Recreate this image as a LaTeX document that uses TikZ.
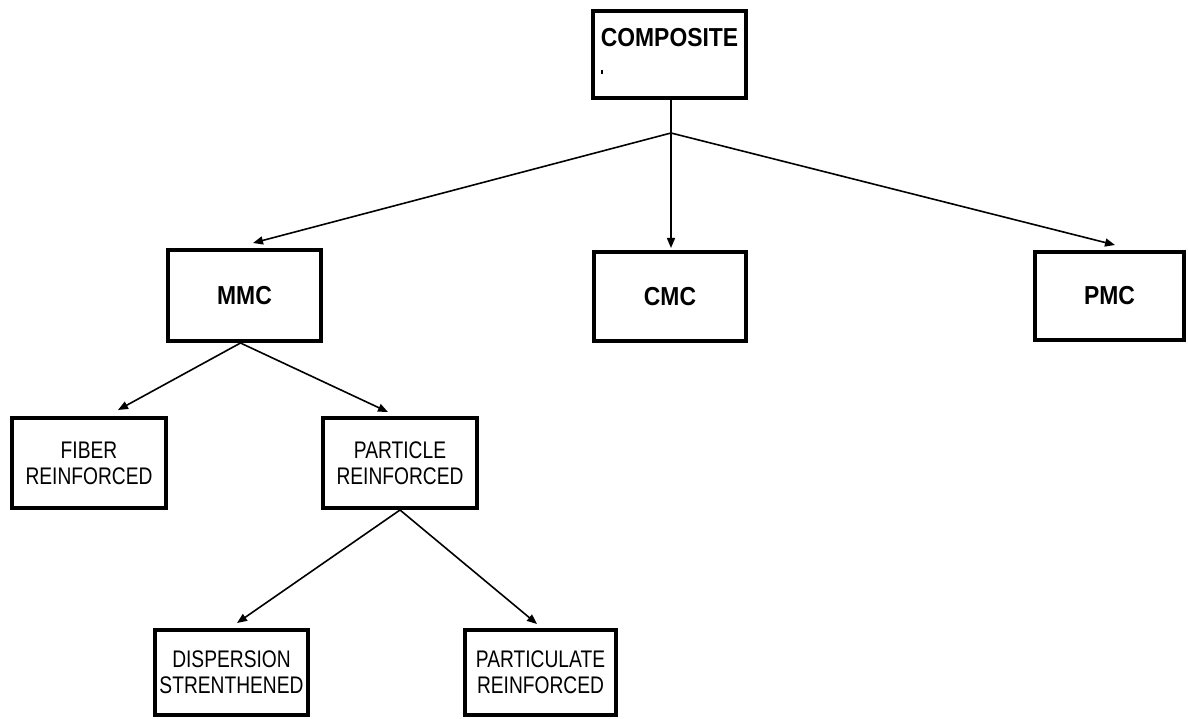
\documentclass[tikz,border=0pt]{standalone}
\usepackage{fontspec}
\usetikzlibrary{arrows.meta}
\newfontfamily\regf[FakeStretch=0.8]{Liberation Sans}
\newfontfamily\boldf[FakeStretch=0.88]{Liberation Sans}
\begin{document}
\begin{tikzpicture}[x=1pt,y=-1pt,
  box/.style={draw=black,line width=4.3pt,inner sep=0pt,align=center,fill=white},
  reg/.style={box,font=\regf\fontsize{24}{26}\selectfont},
  bld/.style={box,font=\boldf\bfseries\fontsize{26}{28}\selectfont},
  conn/.style={line width=1.6pt,draw=black},
  arr/.style={conn,-{Triangle[length=10pt,width=8pt]}}]
\useasboundingbox (0,0) rectangle (1188,719);
\node[bld,minimum width=152.7pt,minimum height=86.7pt,text height=19pt,text depth=34pt] (composite) at (669.5,54.5) {COMPOSITE};
\node[fill=black,inner sep=0pt,minimum width=1.5pt,minimum height=4pt] (compdot) at (602,72) {};
\node[bld,minimum width=152.7pt,minimum height=90.7pt] (mmc) at (244.5,295.5) {MMC};
\node[bld,minimum width=151.7pt,minimum height=88.7pt] (cmc) at (670,296.5) {CMC};
\node[bld,minimum width=148.7pt,minimum height=87.7pt] (pmc) at (1109.5,296) {PMC};
\node[reg,minimum width=153.7pt,minimum height=89.7pt] (fiber) at (89,463) {FIBER\\REINFORCED};
\node[reg,minimum width=153.7pt,minimum height=89.7pt] (particle) at (400,463) {PARTICLE\\REINFORCED};
\node[reg,minimum width=152.7pt,minimum height=84.7pt] (dispersion) at (231.5,672.5) {DISPERSION\\STRENTHENED};
\node[reg,minimum width=150.7pt,minimum height=84.7pt] (particulate) at (540.5,672.5) {PARTICULATE\\REINFORCED};
\coordinate (branch) at (671,133);
\draw[conn] ([xshift=1.5pt]composite.south) -- (branch);
\draw[arr] (branch) -- ([xshift=8.5pt,yshift=5pt]mmc.north);
\draw[arr] (branch) -- ([xshift=1pt,yshift=2pt]cmc.north);
\draw[arr] (branch) -- ([xshift=5.5pt,yshift=5pt]pmc.north);
\draw[arr] ([xshift=-4pt]mmc.south) -- ([xshift=29pt,yshift=6pt]fiber.north);
\draw[arr] ([xshift=-4pt]mmc.south) -- ([xshift=-12pt,yshift=4pt]particle.north);
\draw[arr] (particle.south) -- ([xshift=5.5pt,yshift=5pt]dispersion.north);
\draw[arr] (particle.south) -- ([xshift=-3.5pt,yshift=4pt]particulate.north);
\end{tikzpicture}
\end{document}
